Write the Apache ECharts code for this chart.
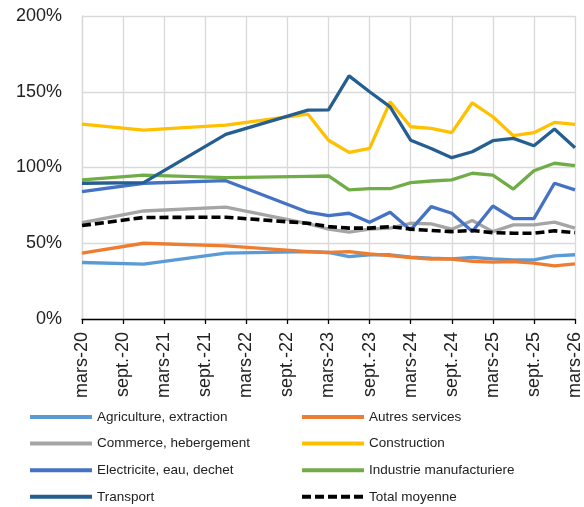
<!DOCTYPE html>
<html>
<head>
<meta charset="utf-8">
<style>
  html, body { margin: 0; padding: 0; background: #fff; }
  #chart { width: 584px; height: 507px; }
</style>
</head>
<body>
<div id="chart"></div>
<script src="https://cdn.jsdelivr.net/npm/echarts@6/dist/echarts.min.js"></script>
<script>
// observation dates (first is mars-20)
var dates = ['2020-03', '2020-12', '2021-12', '2022-12', '2023-03', '2023-06', '2023-09', '2023-12',
  '2024-03', '2024-06', '2024-09', '2024-12', '2025-03', '2025-06', '2025-09', '2025-12', '2026-03'];

var agriculture  = [37.3, 36.2, 43.5, 44.5, 43.9, 41.2, 42.4, 42.4, 40.8, 40.2, 39.7, 40.6, 39.7, 39.0, 39.0, 41.7, 42.4];
var autres       = [43.5, 50.0, 48.3, 44.5, 43.9, 44.5, 43.0, 41.9, 40.6, 39.5, 39.5, 38.0, 37.5, 37.9, 36.9, 35.1, 36.4];
var commerce     = [63.6, 71.3, 73.8, 63.0, 59.3, 57.3, 59.3, 60.0, 63.2, 62.8, 59.3, 65.0, 57.7, 62.1, 62.1, 63.9, 60.0];
var construction = [128.7, 124.7, 128.0, 135.2, 118.0, 110.0, 112.6, 143.3, 126.9, 125.8, 123.0, 142.7, 133.5, 121.0, 123.0, 129.8, 128.5];
var electricite  = [84.0, 89.6, 91.3, 70.5, 68.3, 69.8, 63.9, 70.5, 58.8, 74.2, 69.8, 57.7, 74.6, 66.3, 66.3, 89.6, 85.2];
var industrie    = [91.8, 95.0, 93.3, 94.2, 94.4, 85.2, 86.0, 86.0, 90.0, 91.1, 91.8, 96.2, 95.0, 85.8, 97.9, 102.8, 101.2];
var transport    = [89.6, 90.0, 121.9, 137.9, 138.0, 160.5, 150.0, 140.0, 118.0, 112.6, 106.5, 110.4, 117.7, 119.2, 114.4, 125.4, 113.0];
var total        = [61.7, 67.0, 67.2, 63.2, 61.0, 60.0, 60.0, 61.0, 59.3, 58.4, 57.7, 58.4, 57.0, 56.6, 56.6, 58.2, 57.0];

var names = ['Agriculture, extraction', 'Autres services', 'Commerce, hebergement', 'Construction',
  'Electricite, eau, dechet', 'Industrie manufacturiere', 'Transport', 'Total moyenne'];
var colors = ['#5B9BD5', '#ED7D31', '#A5A5A5', '#FFC000', '#4472C4', '#70AD47', '#255E91', '#000000'];
var values = [agriculture, autres, commerce, construction, electricite, industrie, transport, total];

// months since mars-20
function monthIndex(s) {
  var p = s.split('-');
  return (parseInt(p[0]) - 2020) * 12 + parseInt(p[1]) - 3;
}
var xs = dates.map(monthIndex);

var series = names.map(function(n, i) {
  return {
    name: n, type: 'line', symbol: 'none', z: 2 + i,
    data: values[i].map(function(v, j) { return [xs[j], v]; }),
    lineStyle: { color: colors[i], width: i == 7 ? 3.6 : 3.3, type: i == 7 ? [9, 4] : 'solid' },
    itemStyle: { color: colors[i] }
  };
});

var font = '"Liberation Sans", Arial, sans-serif';
var legendBase = { orient: 'vertical', top: 410, height: 110, padding: 0,
  itemWidth: 62, itemHeight: 14, itemGap: 12.6,
  itemStyle: { opacity: 0 },
  lineStyle: { width: 4 },
  textStyle: { fontFamily: font, fontSize: 13.5, color: '#222' } };

var option = {
  animation: false,
  grid: { left: 82, right: 8, top: 16, bottom: 188 },
  xAxis: {
    type: 'value', min: 0, max: 72, interval: 6,
    axisLine: { show: true, lineStyle: { color: '#000', width: 1.3 } },
    axisTick: { show: true, length: 5, lineStyle: { color: '#000', width: 1.3 } },
    splitLine: { show: true, lineStyle: { color: '#d9d9d9', width: 1.3 } },
    axisLabel: {
      rotate: 90, margin: 13, fontFamily: font, fontSize: 18, color: '#222',
      formatter: function(v) {
        var yy = 20 + Math.floor(v / 12);
        return (v % 12 == 0 ? 'mars-' : 'sept.-') + yy;
      }
    }
  },
  yAxis: {
    type: 'value', min: 0, max: 200, interval: 50,
    axisLine: { show: true, lineStyle: { color: '#d9d9d9', width: 1.3 } },
    axisTick: { show: false },
    splitLine: { show: true, lineStyle: { color: '#d9d9d9', width: 1.3 } },
    axisLabel: { margin: 20, fontFamily: font, fontSize: 18, color: '#222', formatter: '{value}%' }
  },
  legend: [
    Object.assign({ left: 28, data: [names[0], names[2], names[4], names[6]] }, legendBase),
    Object.assign({ left: 300, data: [names[1], names[3], names[5], names[7]] }, legendBase)
  ],
  series: series
};

var chart = echarts.init(document.getElementById('chart'));
chart.setOption(option);
</script>
</body>
</html>
